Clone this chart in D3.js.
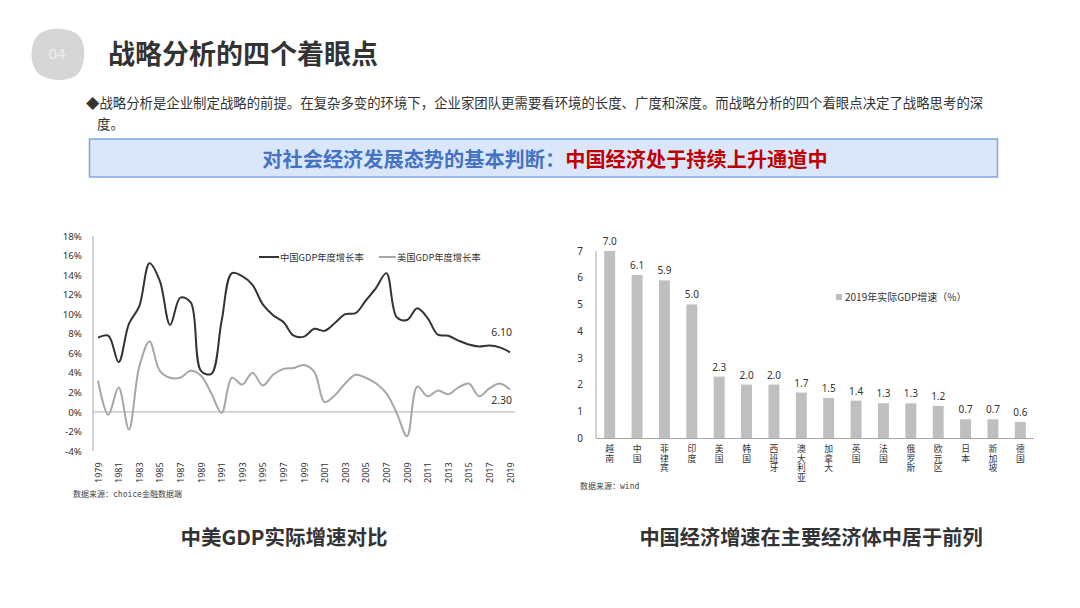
<!DOCTYPE html>
<html><head><meta charset="utf-8">
<script src="https://cdn.jsdelivr.net/npm/d3@7"></script>
<style>body{margin:0;background:#fff;}svg{display:block;font-family:"Noto Sans CJK SC","Noto Sans",sans-serif;}</style>
</head><body>
<svg id="c" width="1080" height="608"></svg>
<script>
const years = d3.range(1979, 2020);
const chinaGDP = [7.6,7.8,5.1,9.0,10.8,15.2,13.4,8.9,11.7,11.2,4.2,3.9,9.3,14.2,13.9,13.0,11.0,9.9,9.2,7.8,7.7,8.5,8.3,9.1,10.0,10.1,11.4,12.7,14.2,9.7,9.4,10.6,9.6,7.9,7.8,7.3,6.9,6.7,6.8,6.6,6.1];
const usGDP = [3.2,-0.3,2.5,-1.8,4.6,7.2,4.2,3.5,3.5,4.2,3.7,1.9,-0.1,3.5,2.8,4.0,2.7,3.8,4.4,4.5,4.8,4.1,1.0,1.7,2.9,3.8,3.5,2.9,1.9,-0.1,-2.5,2.6,1.6,2.2,1.8,2.5,2.9,1.6,2.4,2.9,2.3];
const yTicksLeft = [-4,-2,0,2,4,6,8,10,12,14,16,18];
const countries = ["越南","中国","菲律宾","印度","美国","韩国","西班牙","澳大利亚","加拿大","英国","法国","俄罗斯","欧元区","日本","新加坡","德国"];
const growth2019 = [7.0,6.1,5.9,5.0,2.3,2.0,2.0,1.7,1.5,1.4,1.3,1.3,1.2,0.7,0.7,0.6];
const yTicksRight = [0,1,2,3,4,5,6,7];

const svg = d3.select("#c");

// header
svg.append("path")
  .attr("d","M38,35 C48,26 72,27 80,37 C87,47 85,67 77,75 C66,83 45,81 37,72 C29,62 30,44 38,35 Z")
  .attr("fill","#d6d6d6");
svg.append("text").attr("x",57).attr("y",59).attr("text-anchor","middle")
  .attr("font-size",15).attr("fill","#ededed").attr("font-family","Noto Sans").text("04");
svg.append("text").attr("x",108).attr("y",64).attr("font-size",27).attr("font-weight","bold")
  .attr("fill","#333").text("战略分析的四个着眼点");

svg.append("text").attr("x",86).attr("y",108).attr("font-size",13.4).attr("fill","#333")
  .text("◆战略分析是企业制定战略的前提。在复杂多变的环境下，企业家团队更需要看环境的长度、广度和深度。而战略分析的四个着眼点决定了战略思考的深");
svg.append("text").attr("x",97).attr("y",129).attr("font-size",13.4).attr("fill","#333").text("度。");

svg.append("rect").attr("x",89.5).attr("y",139).attr("width",908).attr("height",38)
  .attr("fill","#dae7fb").attr("stroke","#7ea6e0").attr("stroke-width",1.5);
const bt = svg.append("text").attr("x",545).attr("y",167).attr("text-anchor","middle")
  .attr("font-size",20.2).attr("font-weight","bold");
bt.append("tspan").attr("fill","#4472c4").text("对社会经济发展态势的基本判断：");
bt.append("tspan").attr("fill","#c00000").text("中国经济处于持续上升通道中");

// left chart
const xL = d3.scaleLinear().domain([1979,2019]).range([98,510]);
const yL = d3.scaleLinear().domain([-4,18]).range([451,236]);
const gL = svg.append("g");
gL.append("line").attr("x1",93).attr("x2",93).attr("y1",236).attr("y2",451).attr("stroke","#a6a6a6");
gL.append("line").attr("x1",93).attr("x2",515).attr("y1",yL(0)).attr("y2",yL(0)).attr("stroke","#bfbfbf").attr("stroke-width",1.2);
const yAxL = d3.axisLeft(yL).tickValues(yTicksLeft).tickSize(0).tickPadding(0).tickFormat(d=>d+"%");
gL.append("g").attr("transform","translate(82,0)").call(yAxL)
  .call(g=>g.select(".domain").remove())
  .call(g=>g.selectAll("text").attr("font-size",9.8).attr("fill","#333").attr("font-family","Noto Sans"));
const xAxL = d3.axisBottom(xL).tickValues(years.filter((d,i)=>i%2===0)).tickSize(0).tickFormat(d3.format("d"));
gL.append("g").attr("transform","translate(0,457)").call(xAxL)
  .call(g=>g.select(".domain").remove())
  .call(g=>g.selectAll("text").attr("font-size",9).attr("fill","#333").attr("font-family","Noto Sans")
    .attr("transform","rotate(-90)").attr("text-anchor","start").attr("x",-26).attr("y",0).attr("dy","0.35em"));
const line = d3.line().x((d,i)=>xL(years[i])).y(d=>yL(d)).curve(d3.curveCatmullRom.alpha(0.5));
gL.append("path").datum(usGDP).attr("d",line).attr("fill","none").attr("stroke","#a6a6a6").attr("stroke-width",2);
gL.append("path").datum(chinaGDP).attr("d",line).attr("fill","none").attr("stroke","#333").attr("stroke-width",2);
gL.append("text").attr("x",512).attr("y",yL(chinaGDP[40])-16).attr("text-anchor","end").attr("font-size",10.5).attr("fill","#333").attr("font-family","Noto Sans").text("6.10");
gL.append("text").attr("x",512).attr("y",yL(usGDP[40])+15).attr("text-anchor","end").attr("font-size",10.5).attr("fill","#333").attr("font-family","Noto Sans").text("2.30");
// legend
gL.append("line").attr("x1",259).attr("x2",279).attr("y1",257).attr("y2",257).attr("stroke","#333").attr("stroke-width",2);
gL.append("text").attr("x",280).attr("y",260.5).attr("font-size",9.3).attr("fill","#333").text("中国GDP年度增长率");
gL.append("line").attr("x1",379).attr("x2",396).attr("y1",257).attr("y2",257).attr("stroke","#a6a6a6").attr("stroke-width",2);
gL.append("text").attr("x",397).attr("y",260.5).attr("font-size",9.3).attr("fill","#333").text("美国GDP年度增长率");
gL.append("text").attr("x",73).attr("y",497).attr("font-size",8).attr("fill","#444").attr("font-family","DejaVu Sans Mono, Noto Sans CJK SC").text("数据来源：choice金融数据端");

// right chart
const xR = d3.scaleBand().domain(countries).range([596,1034]).paddingInner(0.6).paddingOuter(0.3);
const yR = d3.scaleLinear().domain([0,7]).range([438,251]);
const gR = svg.append("g");
gR.append("line").attr("x1",596).attr("x2",596).attr("y1",251).attr("y2",438).attr("stroke","#a6a6a6");
const yAxR = d3.axisLeft(yR).tickValues(yTicksRight).tickSize(0).tickPadding(0).tickFormat(d3.format("d"));
gR.append("g").attr("transform","translate(583,0)").call(yAxR)
  .call(g=>g.select(".domain").remove())
  .call(g=>g.selectAll("text").attr("font-size",10).attr("fill","#333").attr("font-family","Noto Sans"));
gR.selectAll("rect.bar").data(growth2019).enter().append("rect").attr("class","bar")
  .attr("x",(d,i)=>xR(countries[i])).attr("width",xR.bandwidth())
  .attr("y",d=>yR(d)).attr("height",d=>yR(0)-yR(d)).attr("fill","#bfbfbf");
gR.append("line").attr("x1",596).attr("x2",1034).attr("y1",438.5).attr("y2",438.5).attr("stroke","#a6a6a6");
gR.selectAll("text.val").data(growth2019).enter().append("text").attr("class","val")
  .attr("x",(d,i)=>xR(countries[i])+xR.bandwidth()/2).attr("y",d=>yR(d)-6)
  .attr("text-anchor","middle").attr("font-size",10).attr("fill","#333").attr("font-family","Noto Sans")
  .text(d=>d.toFixed(1));
gR.selectAll("text.cat").data(countries).enter().append("text").attr("class","cat")
  .attr("x",d=>xR(d)+xR.bandwidth()/2).attr("y",444)
  .attr("font-size",8.8).attr("fill","#333")
  .style("writing-mode","vertical-rl").style("letter-spacing","1px")
  .text(d=>d);
gR.append("rect").attr("x",836).attr("y",294).attr("width",6).attr("height",6).attr("fill","#bfbfbf");
gR.append("text").attr("x",845).attr("y",300.5).attr("font-size",10).attr("fill","#333").text("2019年实际GDP增速（%）");
gR.append("text").attr("x",580).attr("y",489).attr("font-size",8).attr("fill","#444").attr("font-family","DejaVu Sans Mono, Noto Sans CJK SC").text("数据来源：wind");

// bottom titles
svg.append("text").attr("x",284).attr("y",545).attr("text-anchor","middle").attr("font-size",20.5).attr("font-weight","bold").attr("fill","#333").text("中美GDP实际增速对比");
svg.append("text").attr("x",811).attr("y",545).attr("text-anchor","middle").attr("font-size",20.2).attr("font-weight","bold").attr("fill","#333").text("中国经济增速在主要经济体中居于前列");
</script>
</body></html>
